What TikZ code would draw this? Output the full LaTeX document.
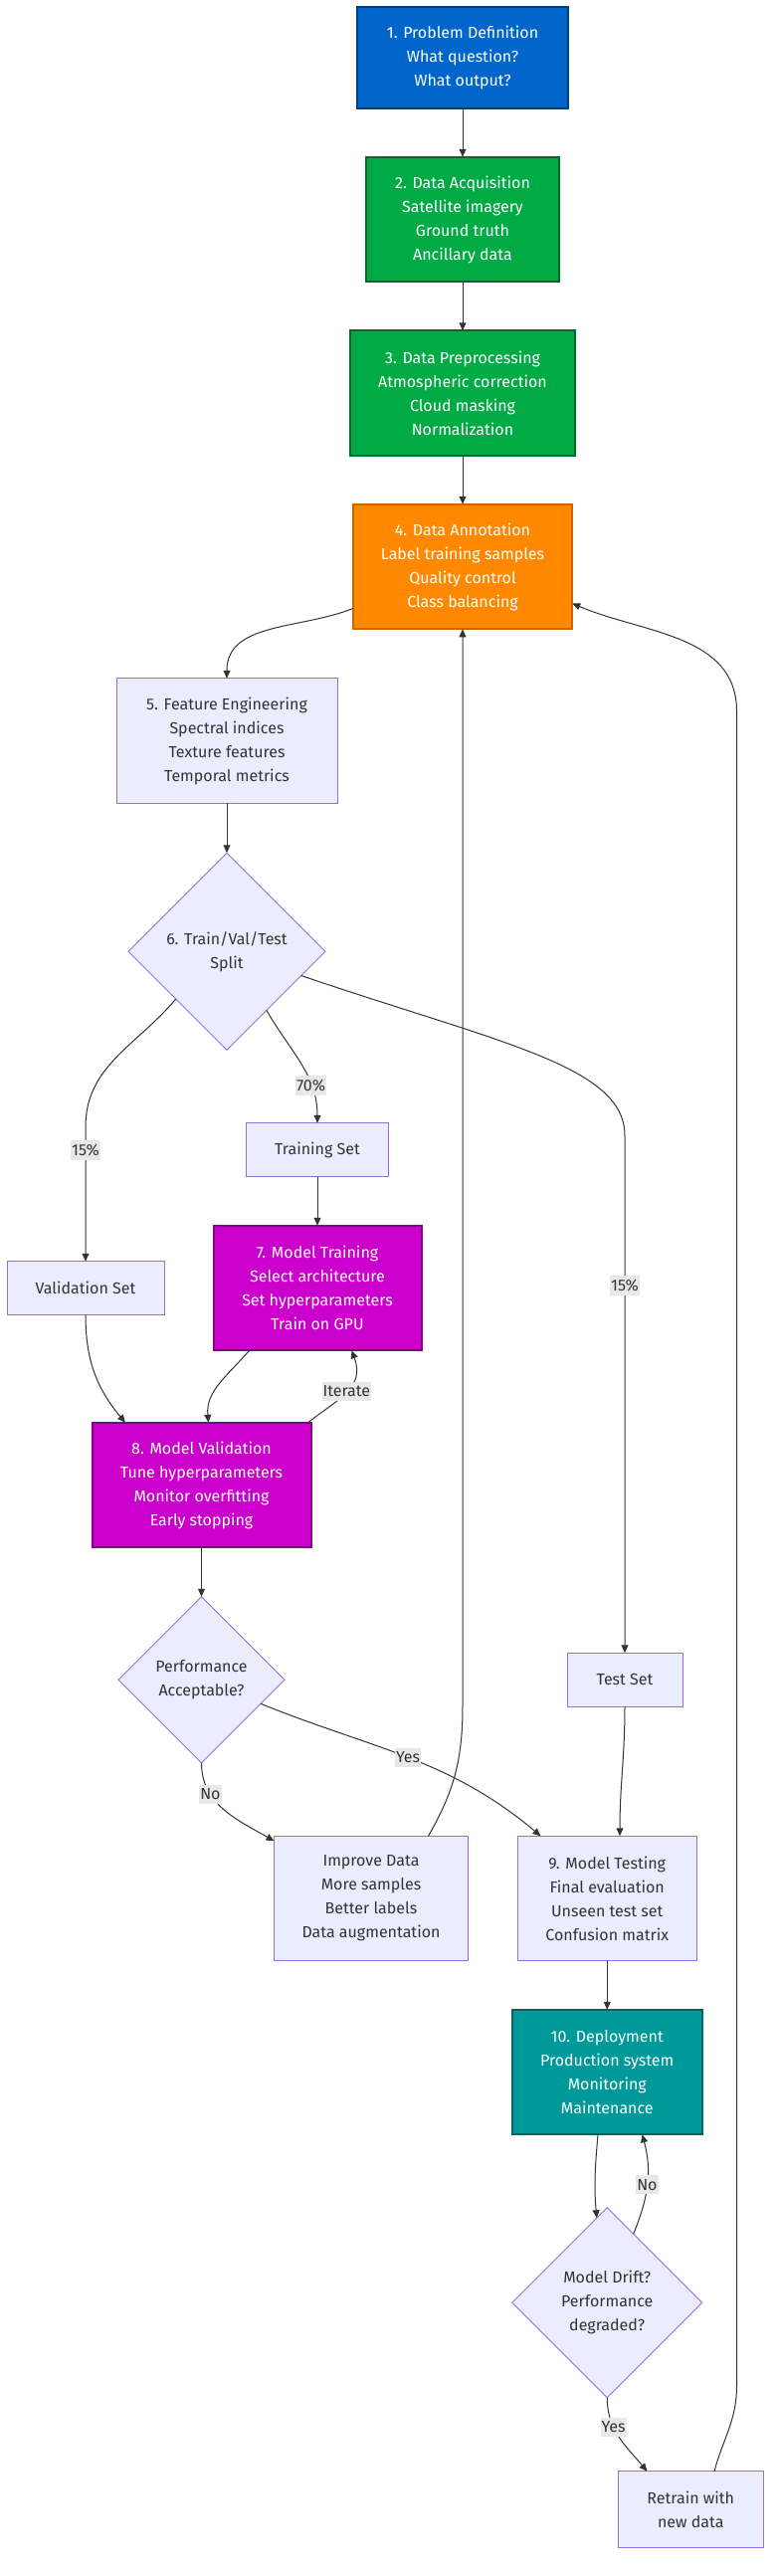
\documentclass[tikz,border=0pt]{standalone}
\usepackage{fontspec}
\setmainfont{Fira Sans}
\usepackage{xcolor}
\usetikzlibrary{positioning}
\usetikzlibrary{shapes.geometric}
\usetikzlibrary{arrows.meta}
\definecolor{ink}{HTML}{333333}
\definecolor{lilac}{HTML}{ECECFF}
\definecolor{lilacline}{HTML}{9370DB}
\definecolor{probfill}{HTML}{0066CC}
\definecolor{probline}{HTML}{004080}
\definecolor{datafill}{HTML}{00AA44}
\definecolor{dataline}{HTML}{006B2B}
\definecolor{annofill}{HTML}{FF8800}
\definecolor{annoline}{HTML}{CC6600}
\definecolor{modelfill}{HTML}{CC00CC}
\definecolor{modelline}{HTML}{880088}
\definecolor{depfill}{HTML}{009999}
\definecolor{depline}{HTML}{006666}
\definecolor{lblbg}{HTML}{E8E8E8}
\tikzset{
  % A plain process box
  stage/.style={
    draw=lilacline, fill=lilac, text=ink, line width=1pt, rectangle,
    align=center, font=\fontsize{16}{24}\selectfont, inner sep=0pt,
    outer sep=0pt, minimum width=#1, minimum height=125.5pt},
  % A coloured box with white text
  keystage/.style={stage=#1, line width=2pt, text=white},
  probstage/.style={keystage=#1, fill=probfill, draw=probline},
  datastage/.style={keystage=#1, fill=datafill, draw=dataline},
  annostage/.style={keystage=#1, fill=annofill, draw=annoline},
  modelstage/.style={keystage=#1, fill=modelfill, draw=modelline},
  depstage/.style={keystage=#1, fill=depfill, draw=depline},
  % A decision
  choice/.style={
    draw=lilacline, fill=lilac, text=ink, line width=1pt, diamond, aspect=1,
    align=center, font=\fontsize{16}{24}\selectfont, inner sep=0pt,
    outer sep=0pt, minimum size=#1},
  % Connectors
  flow/.style={-{Triangle[length=8pt,width=7pt]}, draw=ink, line width=1pt},
  lbl/.style={font=\fontsize{16}{24}\selectfont, text=ink, fill=lblbg,
    inner xsep=1pt, inner ysep=4pt},
}

\begin{document}
\begin{tikzpicture}

\useasboundingbox (0,0) rectangle (783pt,-2589pt);

\node[probstage=212.5pt, minimum height=101.5pt] (problem) at (465pt,-58pt)
  {1. Problem Definition\\What question?\\What output?};
\node[datastage=194.5pt, below=49pt of problem] (acquire)
  {2. Data Acquisition\\Satellite imagery\\Ground truth\\Ancillary data};
\node[datastage=226.5pt, below=49pt of acquire] (prep)
  {3. Data Preprocessing\\Atmospheric correction\\Cloud masking\\Normalization};
\node[annostage=220.5pt, below=49pt of prep] (annot)
  {4. Data Annotation\\Label training samples\\Quality control\\Class balancing};
\node[stage=222pt, below=49.5pt of annot, xshift=-237pt] (features)
  {5. Feature Engineering\\Spectral indices\\Texture features\\Temporal metrics};
\node[choice=198pt, below=50pt of features] (split)
  {6. Train/Val/Test\\Split};
\node[stage=143pt, minimum height=54pt, below=73.5pt of split, xshift=91pt] (trainset)
  {Training Set};
\node[modelstage=209pt, below=49pt of trainset] (training)
  {7. Model Training\\Select architecture\\Set hyperparameters\\Train on GPU};
\node[stage=158pt, minimum height=53.5pt, left=49.5pt of training] (valset)
  {Validation Set};
\node[modelstage=220pt, below=72.5pt of training, xshift=-116.5pt] (validation)
  {8. Model Validation\\Tune hyperparameters\\Monitor overfitting\\Early stopping};
\node[choice=167pt, below=49.5pt of validation] (accept)
  {Performance\\Acceptable?};
\node[stage=116pt, minimum height=54pt, right=284pt of accept] (testset)
  {Test Set};
\node[stage=195pt, below=73.5pt of accept, xshift=170.5pt] (improve)
  {Improve Data\\More samples\\Better labels\\Data augmentation};
\node[stage=180.5pt, right=49.5pt of improve] (testing)
  {9. Model Testing\\Final evaluation\\Unseen test set\\Confusion matrix};
\node[depstage=190.5pt, below=49pt of testing] (deploy)
  {10. Deployment\\Production system\\Monitoring\\Maintenance};
\node[choice=191pt, below=73.5pt of deploy] (drift)
  {Model Drift?\\Performance\\degraded?};
\node[stage=146.5pt, minimum height=76.5pt, below=74pt of drift, xshift=84pt] (retrain)
  {Retrain with\\new data};

\draw[flow] (problem) -- (acquire);
\draw[flow] (acquire) -- (prep);
\draw[flow] (prep) -- (annot);
\draw[flow] ([yshift=-42pt]annot.west) to[out=202, in=90] (features.north);
\draw[flow] (features) -- (split);
\draw[flow] (split.-56) to[out=-60, in=90] node[lbl, pos=0.7]{70\%} (trainset.north);
\draw[flow] (split.-137) to[out=-130, in=90] ([yshift=135pt]valset.north)
  -- node[lbl, pos=0.17]{15\%} (valset.north);
\draw[flow] (split.-18) .. controls +(200pt,-68pt) and +(0pt,70pt) .. ([yshift=520pt]testset.north)
  -- node[lbl, pos=0.29]{15\%} (testset.north);
\draw[flow] (trainset) -- (training);
\draw[flow] (valset.south) to[out=-90, in=130] ([xshift=-76.5pt]validation.north);
\draw[flow] ([xshift=-68.5pt]training.south) to[out=-130, in=95] ([xshift=7pt]validation.north);
\draw[flow] ([xshift=107pt]validation.north) to[out=38, in=-70, looseness=1.2]
  node[lbl, pos=0.5]{Iterate} ([xshift=34.5pt]training.south);
\draw[flow] (validation) -- (accept);
\draw[flow] (accept.south) to[out=-90, in=150] node[lbl, pos=0.3]{No} ([yshift=-5pt]improve.north west);
\draw[flow] (accept.-22) to[out=-22, in=140] node[lbl, pos=0.5]{Yes} ([xshift=-66.75pt]testing.north);
\draw[flow] (testset.south) to[out=-90, in=90] ([xshift=12.75pt]testing.north);
\draw[flow] ([xshift=57.5pt]improve.north) to[out=60, in=-90] ([yshift=-1082pt]annot.south) -- (annot.south);
\draw[flow] (testing) -- (deploy);
\draw[flow] ([xshift=-9.25pt]deploy.south) to[out=-95, in=95] (drift.97);
\draw[flow] (drift.69) to[out=68, in=-75] node[lbl, pos=0.5]{No} ([xshift=35.25pt]deploy.south);
\draw[flow] (drift.south) to[out=-90, in=130] node[lbl, pos=0.35]{Yes} ([xshift=-43.75pt]retrain.north);
\draw[flow] ([xshift=23.75pt]retrain.north) to[out=75, in=-90] (740.5pt,-2398pt)
  -- (740.5pt,-715pt) to[out=90, in=-23] ([yshift=-37pt]annot.east);

\end{tikzpicture}
\end{document}
